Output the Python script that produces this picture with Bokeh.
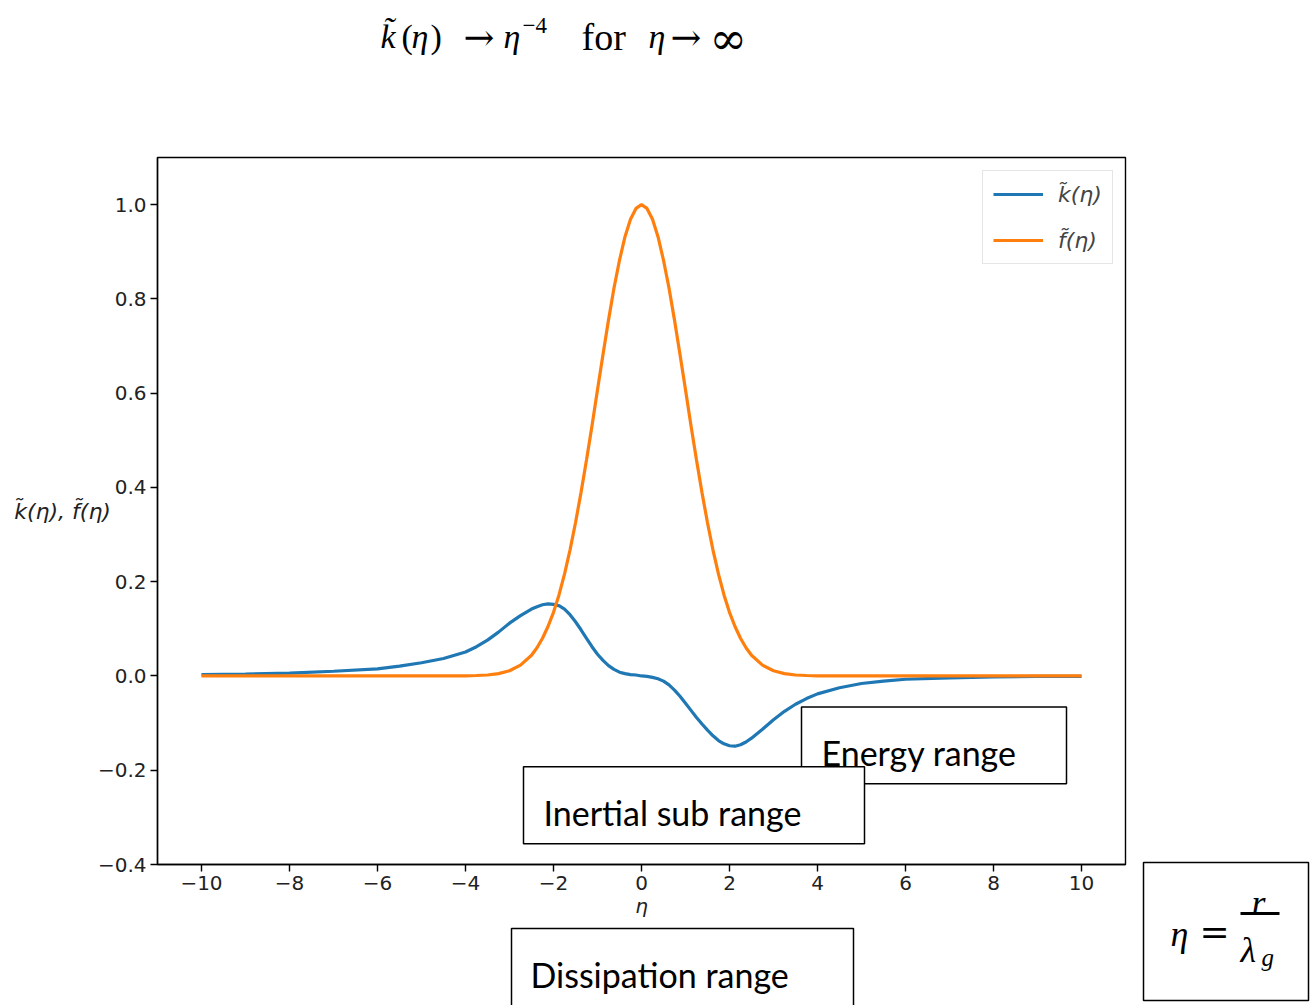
from bokeh.plotting import figure
from bokeh.models import (Range1d, FixedTicker, Label, BoxAnnotation, Legend, LegendItem)
from bokeh.layouts import row, column
from bokeh.embed import file_html
from bokeh.resources import INLINE

# ---- data ----
ETA = [-10, -9, -8, -7, -6, -5.5, -5, -4.5, -4, -3.75, -3.5, -3.25, -3, -2.75, -2.5,
       -2.375, -2.25, -2.125, -2, -1.875, -1.75, -1.625, -1.5, -1.375, -1.25,
       -1.125, -1, -0.875, -0.75, -0.625, -0.5, -0.375, -0.25, -0.125, 0,
       0.125, 0.25, 0.375, 0.5, 0.625, 0.75, 0.875, 1, 1.125, 1.25, 1.375, 1.5,
       1.625, 1.75, 1.875, 2, 2.125, 2.25, 2.375,
       2.5, 2.75, 3, 3.25, 3.5, 3.75, 4, 4.5, 5, 5.5, 6, 7, 8, 9, 10]
K_TILDE = [0.003, 0.004, 0.006, 0.010, 0.015, 0.021, 0.028, 0.037, 0.051, 0.062,
           0.076, 0.093, 0.112, 0.128, 0.142,
           0.147, 0.151, 0.153, 0.152, 0.149, 0.142, 0.130, 0.115, 0.098, 0.080,
           0.062, 0.046, 0.033, 0.022, 0.014, 0.008, 0.005, 0.003, 0.002, 0.000,
           -0.001, -0.003, -0.006, -0.011, -0.019, -0.030, -0.043, -0.058, -0.073,
           -0.088, -0.102, -0.115, -0.127, -0.137, -0.144, -0.148, -0.149, -0.146,
           -0.140,
           -0.132, -0.113, -0.093, -0.075, -0.060, -0.048, -0.038, -0.025, -0.016,
           -0.011, -0.007, -0.004, -0.002, -0.001, -0.001]
F_TILDE = [0.0, 0.0, 0.0, 0.0, 0.0, 0.0, 0.0, 0.0, 0.0003, 0.001, 0.002, 0.005,
           0.011, 0.023, 0.044,
           0.060, 0.080, 0.105, 0.135, 0.172, 0.216, 0.267, 0.325, 0.389, 0.458,
           0.531, 0.607, 0.682, 0.755, 0.823, 0.882, 0.932, 0.969, 0.992, 1.000,
           0.992, 0.969, 0.932, 0.882, 0.823, 0.755, 0.682, 0.607, 0.531, 0.458,
           0.389, 0.325, 0.267, 0.216, 0.172, 0.135, 0.105, 0.080, 0.060,
           0.044, 0.023, 0.011, 0.005, 0.002, 0.001, 0.0003, 0.0, 0.0, 0.0, 0.0,
           0.0, 0.0, 0.0, 0.0]
X_TICKS = [-10, -8, -6, -4, -2, 0, 2, 4, 6, 8, 10]
Y_TICKS = [-0.4, -0.2, 0.0, 0.2, 0.4, 0.6, 0.8, 1.0]
X_TICK_LABELS = {-10: "−10", -8: "−8", -6: "−6", -4: "−4", -2: "−2", 0: "0",
                 2: "2", 4: "4", 6: "6", 8: "8", 10: "10"}
Y_TICK_LABELS = {-0.4: "−0.4", -0.2: "−0.2", 0.0: "0.0", 0.2: "0.2", 0.4: "0.4",
                 0.6: "0.6", 0.8: "0.8", 1.0: "1.0"}

BLUE = "#1f77b4"
ORANGE = "#ff7f0e"
TICK_FONT = "DejaVu Sans"
SERIF = "Liberation Serif"

LEFT_W, RIGHT_W = 1131, 183
TOP_H, MAIN_H, BOT_H = 155, 769, 81
FRAME_L, FRAME_R = 157, 1125   # page x of the plot frame (strips align to it)


def canvas(w, h, x0=0, x1=None):
    f = figure(width=w, height=h, output_backend="svg", toolbar_location=None,
               x_range=Range1d(x0, w if x1 is None else x1), y_range=Range1d(h, 0),
               x_axis_type=None, y_axis_type=None, min_border=0)
    f.xgrid.visible = False
    f.ygrid.visible = False
    f.outline_line_color = None
    f.background_fill_color = "white"
    f.border_fill_color = "white"
    return f


def lab(f, x, y, txt, size, font=SERIF, style="normal", align="left",
        baseline="alphabetic"):
    f.add_layout(Label(x=x, y=y, text=txt, text_font=font, text_font_size=size,
                       text_font_style=style, text_align=align,
                       text_baseline=baseline, text_color="black", level="overlay"))


def box(f, left, top, right, bottom):
    f.add_layout(BoxAnnotation(left=left, right=right, top=top, bottom=bottom,
                               fill_color="white", fill_alpha=1.0,
                               line_color="black", line_alpha=1.0, line_width=1.5,
                               level="annotation"))


# ---------------- top strip: formula ----------------
top = canvas(LEFT_W, TOP_H, FRAME_L, FRAME_R)
TS = "34px"
lab(top, 380, 36, "k̃", TS, style="italic")
lab(top, 401, 36, "(", TS)
lab(top, 411, 36, "η", TS, style="italic")
lab(top, 430, 36, ")", TS)
lab(top, 463, 37, "→", "37px", font="DejaVu Serif")
lab(top, 503, 36, "η", TS, style="italic")
lab(top, 522, 25, "−4", "23px")
lab(top, 581, 36, "for", "38px")
lab(top, 648, 36, "η", TS, style="italic")
lab(top, 670, 37, "→", "37px", font="DejaVu Serif")
lab(top, 709, 38, "∞", "45px", font="DejaVu Serif")

# ---------------- main chart ----------------
p = figure(width=LEFT_W, height=MAIN_H, output_backend="svg", toolbar_location=None,
           x_range=Range1d(-11, 11), y_range=Range1d(-0.4, 1.1),
           min_border_left=FRAME_L, min_border_top=2, min_border_right=LEFT_W - FRAME_R,
           min_border_bottom=MAIN_H - 2 - 707)
p.background_fill_color = "white"
p.border_fill_color = "white"
p.outline_line_color = "black"
p.outline_line_width = 1.4
p.xgrid.visible = False
p.ygrid.visible = False

for ax in (p.xaxis[0], p.yaxis[0]):
    ax.axis_line_color = "black"
    ax.axis_line_width = 1.4
    ax.major_tick_line_color = "black"
    ax.major_tick_line_width = 1.4
    ax.major_tick_out = 7
    ax.major_tick_in = 0
    ax.minor_tick_line_color = None
    ax.major_label_text_font = TICK_FONT
    ax.major_label_text_font_size = "20px"
    ax.major_label_text_color = "#222222"
    ax.major_label_standoff = 4

p.xaxis.ticker = FixedTicker(ticks=X_TICKS)
p.yaxis.ticker = FixedTicker(ticks=Y_TICKS)
p.xaxis.major_label_overrides = X_TICK_LABELS
p.yaxis.major_label_overrides = Y_TICK_LABELS
p.xaxis.axis_label = "η"
p.xaxis.axis_label_text_font = TICK_FONT
p.xaxis.axis_label_text_font_style = "italic"
p.xaxis.axis_label_text_font_size = "20px"
p.xaxis.axis_label_standoff = 1
p.xaxis.axis_label_text_color = "#222222"

p.yaxis.axis_label = "k̃(η), f̃(η)"
p.yaxis.axis_label_text_font = TICK_FONT
p.yaxis.axis_label_text_font_style = "italic"
p.yaxis.axis_label_text_font_size = "22px"
p.yaxis.axis_label_text_color = "#222222"
p.yaxis.axis_label_standoff = -16
try:
    p.yaxis[0].axis_label_orientation = "horizontal"
except Exception:
    pass

rk = p.line(ETA, K_TILDE, line_color=BLUE, line_width=3.2)
rf = p.line(ETA, F_TILDE, line_color=ORANGE, line_width=3.2)

legend = Legend(items=[LegendItem(label="k̃(η)", renderers=[rk]),
                       LegendItem(label="f̃(η)", renderers=[rf])],
                location=(825, 600))
legend.label_text_font = TICK_FONT
legend.label_text_font_style = "italic"
legend.label_text_font_size = "22px"
legend.glyph_width = 50
legend.glyph_height = 26
legend.label_height = 26
legend.label_standoff = 15
legend.padding = 10
legend.spacing = 20
legend.margin = 0
legend.border_line_color = "#cccccc"
legend.border_line_width = 1.2
legend.background_fill_alpha = 0.8
p.add_layout(legend)


def dx(X):
    return (X - 641) / 44.0


def dy(Y):
    return (676 - Y) / 472.0


BOX_FONT = "34px"
box(p, dx(801), dy(707), dx(1066), dy(784))
lab(p, dx(821), dy(753), "Energy range", BOX_FONT, font="Lato")
box(p, dx(523), dy(767), dx(864), dy(844))
lab(p, dx(543), dy(813), "Inertial sub range", BOX_FONT, font="Lato")

# ---------------- bottom strip: dissipation box ----------------
bot = canvas(LEFT_W, BOT_H, FRAME_L, FRAME_R)
Y0 = TOP_H + MAIN_H
box(bot, 511, 928 - Y0, 853, 1012 - Y0)
lab(bot, 530, 974 - Y0, "Dissipation range", BOX_FONT, font="Lato")

# ---------------- right strip: eta definition ----------------
right = canvas(RIGHT_W, TOP_H + MAIN_H + BOT_H)
X0 = LEFT_W
box(right, 1143 - X0, 862, 1308 - X0, 1000)
lab(right, 1170 - X0, 933, "η", "36px", style="italic")
lab(right, 1199 - X0, 931, "=", "36px", font="DejaVu Serif")
lab(right, 1251 - X0, 902, "r", "36px", style="italic")
lab(right, 1240 - X0, 949, "λ", "36px", style="italic")
lab(right, 1261 - X0, 957, "g", "25px", style="italic")
right.add_layout(BoxAnnotation(left=1240 - X0, right=1279 - X0, top=911.5, bottom=914.5,
                               fill_color="black", fill_alpha=1.0, line_color=None,
                               level="overlay"))

layout = row(column(top, p, bot), right)
open("out.html", "w").write(file_html(layout, INLINE))
